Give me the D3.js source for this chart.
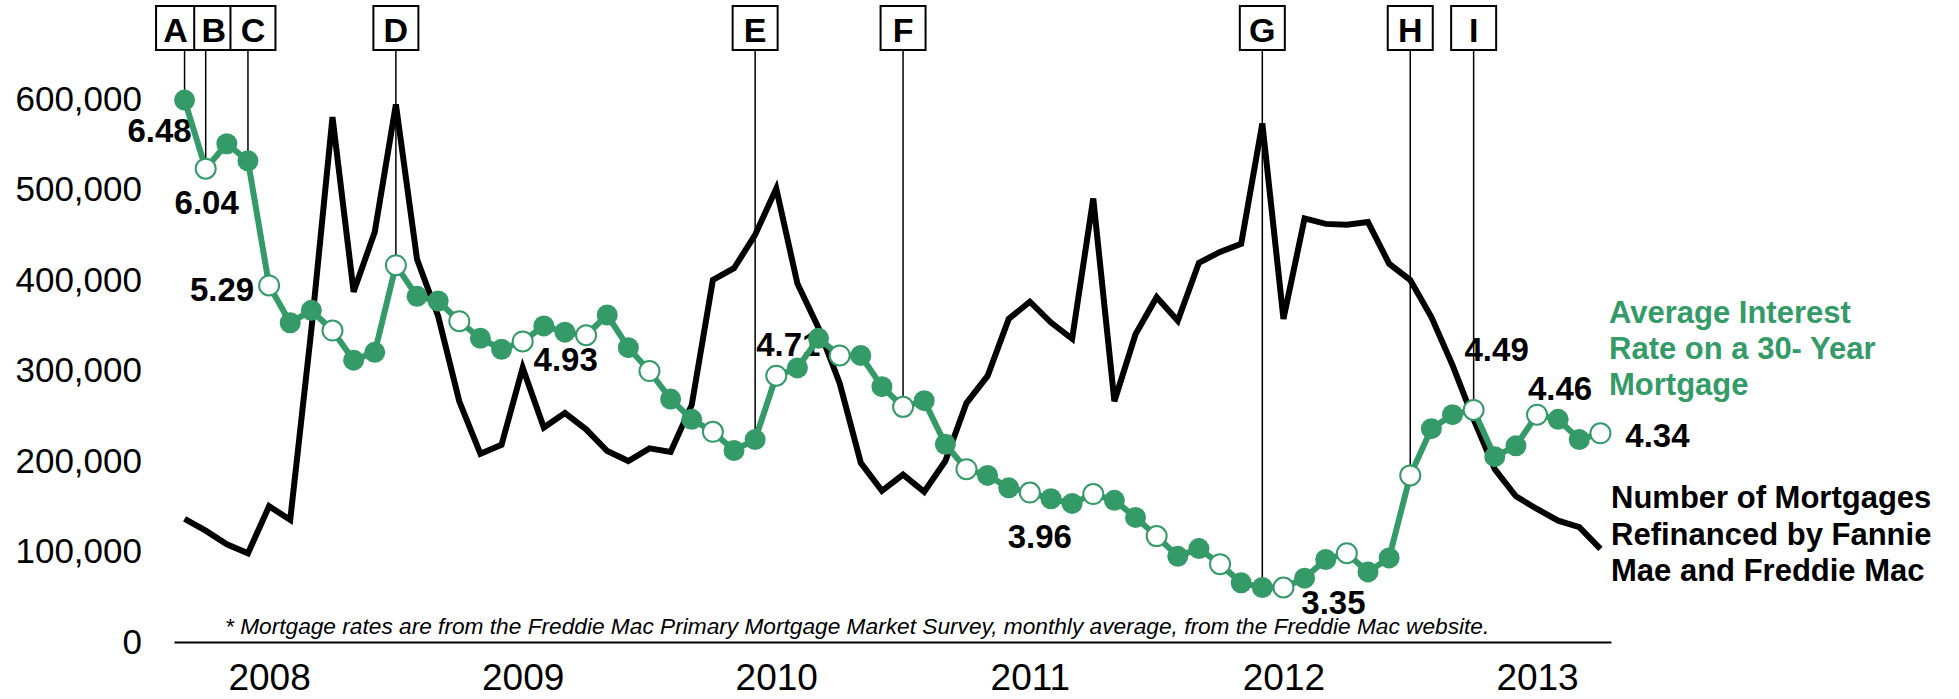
<!DOCTYPE html>
<html>
<head>
<meta charset="utf-8">
<script src="https://cdn.jsdelivr.net/npm/d3@7"></script>
<style>
  body { margin: 0; background: #fff; }
  svg text { font-family: "Liberation Sans", Arial, sans-serif; }
</style>
</head>
<body>
<svg id="chart" width="1959" height="699"></svg>
<script>
// monthly categories, Aug 2008 .. Mar 2014
const months = d3.timeMonths(new Date(2008, 7, 1), new Date(2014, 3, 1)).map(d3.timeFormat("%Y-%m"));

// number of mortgages refinanced by Fannie Mae and Freddie Mac
const refinanced = [
  136000, 123000, 108000, 98000, 150000, 135000, 345000, 580000, 387000, 453000, 594000, 423000,
  360000, 266000, 208000, 218000, 303000, 237000, 253000, 235000, 211000, 200000, 214000, 210000,
  262000, 400000, 413000, 450000, 501000, 396000, 347000, 286000, 198000, 167000, 185000, 166000,
  200000, 264000, 294000, 357000, 376000, 353000, 335000, 490000, 266000, 340000, 381000, 355000,
  419000, 431000, 440000, 573000, 357000, 468000, 462000, 461000, 464000, 418000, 400000, 359000,
  306000, 246000, 191000, 161000, 147000, 134000, 127000, 103000
];

// average 30-year mortgage rate (%)
const rates = [
  6.48, 6.04, 6.20, 6.09, 5.29, 5.05, 5.13, 5.00, 4.81, 4.86, 5.42, 5.22,
  5.19, 5.06, 4.95, 4.88, 4.93, 5.03, 4.99, 4.97, 5.10, 4.89, 4.74, 4.56,
  4.43, 4.35, 4.23, 4.30, 4.71, 4.76, 4.95, 4.84, 4.84, 4.64, 4.51, 4.55,
  4.27, 4.11, 4.07, 3.99, 3.96, 3.92, 3.89, 3.95, 3.91, 3.80, 3.68, 3.55,
  3.60, 3.50, 3.38, 3.35, 3.35, 3.41, 3.53, 3.57, 3.45, 3.54, 4.07, 4.37,
  4.46, 4.49, 4.19, 4.26, 4.46, 4.43, 4.30, 4.34
];

const yTicks = [0, 100000, 200000, 300000, 400000, 500000, 600000];
const yearLabels = ["2008", "2009", "2010", "2011", "2012", "2013"];
const yearTickMonths = ["2008-12", "2009-12", "2010-12", "2011-12", "2012-12", "2013-12"];

const eventLetters = ["A", "B", "C", "D", "E", "F", "G", "H", "I"];
const eventMonths = ["2008-08", "2008-09", "2008-11", "2009-06", "2010-11", "2011-06", "2012-11", "2013-06", "2013-09"];

const calloutMonths = ["2008-08", "2008-09", "2008-12", "2009-12", "2010-12", "2011-12", "2012-12", "2013-09", "2013-12", "2014-03"];

const footnote = "* Mortgage rates are from the Freddie Mac Primary Mortgage Market Survey, monthly average, from the Freddie Mac website.";
const rateTitle = ["Average Interest", "Rate on a 30- Year", "Mortgage"];
const refiTitle = ["Number of Mortgages", "Refinanced by Fannie", "Mae and Freddie Mac"];

const green = "#349a67";
const svg = d3.select("#chart");

const x = d3.scalePoint().domain(months).range([174, 1611]).padding(0.5);
const y = d3.scaleLinear().domain([0, 600000]).range([642, 99]);
const yRate = d3.scaleLinear().domain([3, 6.5]).range([642, 97]);
const rateAt = m => rates[months.indexOf(m)];

// y axis (labels only)
const yAxis = svg.append("g")
  .attr("transform", "translate(174,0)")
  .call(d3.axisLeft(y).tickValues(yTicks).tickFormat(d3.format(",")).tickSize(0).tickPadding(32));
yAxis.select(".domain").remove();
yAxis.selectAll("text")
  .attr("font-size", 35)
  .attr("fill", "#000")
  .style("font-family", '"Liberation Sans", Arial, sans-serif');

// x axis
const xAxis = svg.append("g")
  .attr("transform", "translate(0,642)")
  .call(d3.axisBottom(x).tickValues(yearTickMonths).tickFormat((d, i) => yearLabels[i])
    .tickSize(0).tickSizeOuter(0).tickPadding(22));
xAxis.select(".domain").attr("stroke", "#000").attr("stroke-width", 2);
xAxis.selectAll("text")
  .attr("font-size", 37)
  .attr("fill", "#000")
  .style("font-family", '"Liberation Sans", Arial, sans-serif');

// footnote
svg.append("text")
  .attr("x", 225)
  .attr("y", 634)
  .attr("font-size", 22.7)
  .attr("font-style", "italic")
  .text(footnote);

// refinance line
svg.append("path")
  .datum(refinanced)
  .attr("fill", "none")
  .attr("stroke", "#000")
  .attr("stroke-width", 6)
  .attr("d", d3.line().x((d, i) => x(months[i])).y(d => y(d)));

// event markers
const boxW = {A: 39, B: 39};
const boxShift = {A: -9, B: 8, C: 5};
const ev = svg.append("g").selectAll("g")
  .data(eventLetters)
  .enter()
  .append("g");

ev.append("line")
  .attr("x1", (d, i) => x(eventMonths[i]))
  .attr("x2", (d, i) => x(eventMonths[i]))
  .attr("y1", 50)
  .attr("y2", (d, i) => yRate(rateAt(eventMonths[i])))
  .attr("stroke", "#000")
  .attr("stroke-width", 1.5);

ev.append("rect")
  .attr("x", (d, i) => x(eventMonths[i]) + (boxShift[d] || 0) - (boxW[d] || 45) / 2)
  .attr("y", 6)
  .attr("width", d => boxW[d] || 45)
  .attr("height", 44)
  .attr("fill", "#fff")
  .attr("stroke", "#000")
  .attr("stroke-width", 2);

ev.append("text")
  .attr("x", (d, i) => x(eventMonths[i]) + (boxShift[d] || 0))
  .attr("y", 42)
  .attr("text-anchor", "middle")
  .attr("font-size", 34)
  .attr("font-weight", "bold")
  .text(d => d);

// rate callouts
const calloutOffset = {
  "2008-08": [-25, 42], "2008-09": [1, 45], "2008-12": [-47, 16], "2009-12": [43, 30],
  "2010-12": [12, -20], "2011-12": [10, 55], "2012-12": [50, 26], "2013-09": [23, -49],
  "2013-12": [23, -15], "2014-03": [57, 14]
};
svg.append("g").selectAll("text")
  .data(calloutMonths)
  .enter()
  .append("text")
  .attr("x", d => x(d) + calloutOffset[d][0])
  .attr("y", d => yRate(rateAt(d)) + calloutOffset[d][1])
  .attr("text-anchor", "middle")
  .attr("font-size", 33)
  .attr("font-weight", "bold")
  .text(d => rateAt(d).toFixed(2));

// rate line with markers
svg.append("path")
  .datum(rates)
  .attr("fill", "none")
  .attr("stroke", green)
  .attr("stroke-width", 6)
  .attr("d", d3.line().x((d, i) => x(months[i])).y(d => yRate(d)));

const quarterEnd = m => ["03", "06", "09", "12"].includes(m.slice(5));
svg.append("g").selectAll("circle")
  .data(rates)
  .enter()
  .append("circle")
  .attr("cx", (d, i) => x(months[i]))
  .attr("cy", d => yRate(d))
  .attr("r", (d, i) => quarterEnd(months[i]) ? 10 : 10.5)
  .attr("fill", (d, i) => quarterEnd(months[i]) ? "#fff" : green)
  .attr("stroke", green)
  .attr("stroke-width", (d, i) => quarterEnd(months[i]) ? 2 : 0);

// series titles
svg.append("text")
  .attr("x", 1609)
  .attr("y", 323)
  .attr("font-size", 31)
  .attr("font-weight", "bold")
  .attr("fill", green)
  .selectAll("tspan")
  .data(rateTitle)
  .enter()
  .append("tspan")
  .attr("x", 1609)
  .attr("dy", (d, i) => i ? 36 : 0)
  .text(d => d);

svg.append("text")
  .attr("x", 1611)
  .attr("y", 508)
  .attr("font-size", 31)
  .attr("font-weight", "bold")
  .attr("fill", "#000")
  .selectAll("tspan")
  .data(refiTitle)
  .enter()
  .append("tspan")
  .attr("x", 1611)
  .attr("dy", (d, i) => i ? 36.5 : 0)
  .text(d => d);
</script>
</body>
</html>
